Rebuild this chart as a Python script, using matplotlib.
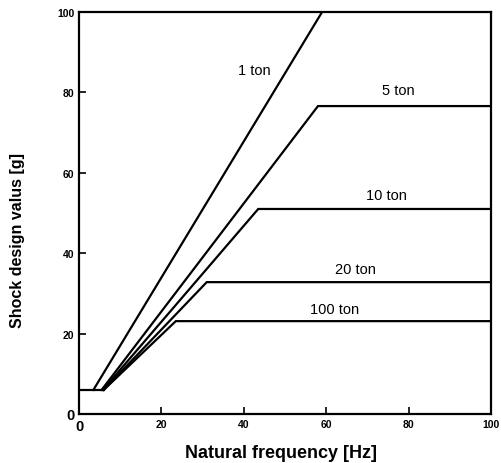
import matplotlib
matplotlib.use("Agg")
import matplotlib.pyplot as plt

# curve break points (Natural frequency [Hz], Shock design value [g])
base_f = [0, 6]
base_g = [6, 6]

ton_1_f = [3.5, 59]
ton_1_g = [6, 100]

ton_5_f = [5.5, 58, 100]
ton_5_g = [6, 76.6, 76.6]

ton_10_f = [5.8, 43.5, 100]
ton_10_g = [6, 51, 51]

ton_20_f = [6, 31, 100]
ton_20_g = [6, 32.8, 32.8]

ton_100_f = [6, 23.5, 100]
ton_100_g = [6, 23.1, 23.1]

labels = ["1 ton", "5 ton", "10 ton", "20 ton", "100 ton"]
label_f = [42.5, 77.5, 74.5, 67, 62]
label_g = [85.5, 80.5, 54.5, 36, 26]

plt.rcParams["font.family"] = ["Liberation Sans", "DejaVu Sans"]

fig = plt.figure(figsize=(5.01, 4.64), dpi=100)
ax = fig.add_axes([79 / 501, 1 - 415 / 464, 412 / 501, 402 / 464])

lw = 1.6
ax.plot(base_f, base_g, color="k", lw=lw)
for f, g in [(ton_1_f, ton_1_g), (ton_5_f, ton_5_g), (ton_10_f, ton_10_g),
             (ton_20_f, ton_20_g), (ton_100_f, ton_100_g)]:
    ax.plot(f, g, color="k", lw=lw, solid_joinstyle="miter")

for t, x, y in zip(labels, label_f, label_g):
    ax.text(x, y, t, ha="center", va="center", fontsize=10.5)

ax.set_xlim(0, 100)
ax.set_ylim(0, 100)
ax.set_xticks([0, 20, 40, 60, 80, 100])
ax.set_yticks([0, 20, 40, 60, 80, 100])
ax.tick_params(direction="in", length=5, width=1.2, labelsize=7.5)
for lab in ax.get_xticklabels() + ax.get_yticklabels():
    lab.set_fontweight("bold")
# the zeros are printed bigger in the original
ax.get_xticklabels()[0].set_fontsize(10.5)
ax.get_yticklabels()[0].set_fontsize(10.5)
for s in ax.spines.values():
    s.set_linewidth(1.6)

ax.set_xlabel("Natural frequency [Hz]", fontsize=13, fontweight="bold")
ax.set_ylabel("Shock design valus [g]", fontsize=11.5, fontweight="bold")
ax.xaxis.set_label_coords(0.49, -0.075)
ax.yaxis.set_label_coords(-0.13, 0.435)

fig.savefig("out.png", dpi=100)
